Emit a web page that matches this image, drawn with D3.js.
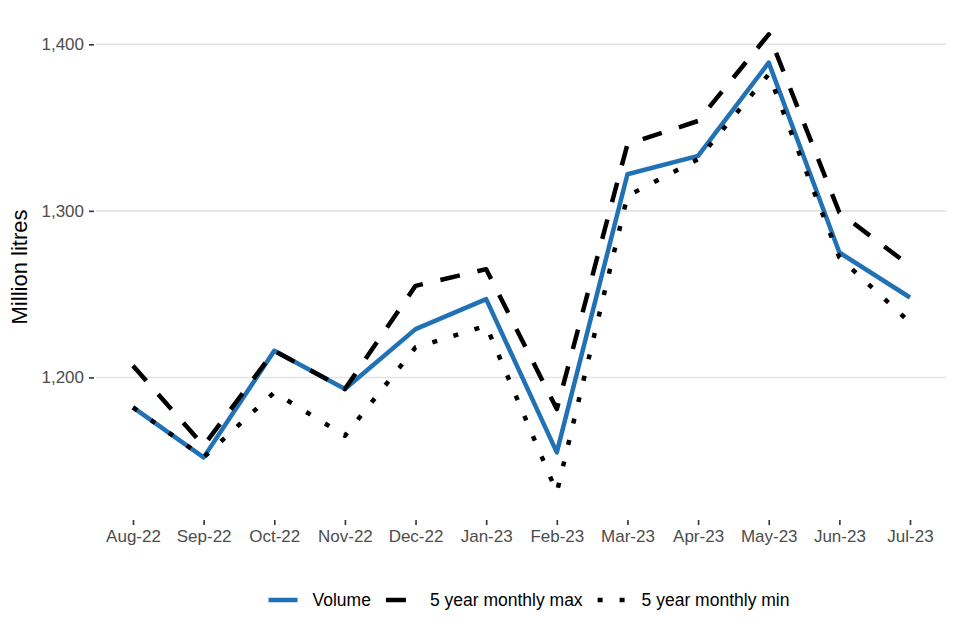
<!DOCTYPE html>
<html>
<head>
<meta charset="utf-8">
<script src="https://cdn.jsdelivr.net/npm/d3@7"></script>
<style>
  body { margin: 0; background: #fff; }
  svg { font-family: "Liberation Sans", Arial, sans-serif; }
</style>
</head>
<body>
<svg id="chart"></svg>
<script>
// données
const months = ["Aug-22", "Sep-22", "Oct-22", "Nov-22", "Dec-22", "Jan-23", "Feb-23", "Mar-23", "Apr-23", "May-23", "Jun-23", "Jul-23"];
const volume = [1182, 1152, 1216, 1193, 1229, 1247, 1155, 1322, 1333, 1389, 1275, 1248];
const maxValues = [1207, 1159, 1216, 1193, 1255, 1265, 1181, 1340, 1354, 1406, 1299, 1267];
const minValues = [1182, 1152, 1191, 1165, 1218, 1231, 1131, 1309, 1331, 1382, 1272, 1233];
const yTicks = [1200, 1300, 1400];
const seriesNames = ["Volume", "5 year monthly max", "5 year monthly min"];

const width = 960, height = 640;
const margin = { top: 11, right: 14, bottom: 121, left: 96 };

const svg = d3.select('#chart')
    .attr("width", width)
    .attr("height", height);

const x = d3.scalePoint()
    .domain(months)
    .range([133, 910]);

const y = d3.scaleLinear()
    .domain([1115, 1420])
    .range([height - margin.bottom, margin.top]);

// grille
svg.append('g')
    .selectAll('line')
    .data(yTicks)
    .join('line')
    .attr('x1', margin.left)
    .attr('x2', width - margin.right)
    .attr('y1', d => y(d))
    .attr('y2', d => y(d))
    .attr('stroke', '#e3e3e3')
    .attr('stroke-width', 1.6);

// axe y
const yAxis = svg.append('g')
    .attr("transform", "translate(" + (margin.left - 2) + ",0)")
    .call(d3.axisLeft(y).tickValues(yTicks).tickFormat(d3.format(",")).tickSize(5).tickPadding(5));
yAxis.select('.domain').remove();
yAxis.selectAll('.tick line').attr('stroke', '#333').attr('stroke-width', 1.6);
yAxis.selectAll('.tick text').attr('fill', '#4d4d4d').style('font-size', '17px');

// axe x
const xAxis = svg.append('g')
    .attr("transform", "translate(0," + (height - margin.bottom + 1) + ")")
    .call(d3.axisBottom(x).tickSize(5).tickPadding(5));
xAxis.select('.domain').remove();
xAxis.selectAll('.tick line').attr('stroke', '#333').attr('stroke-width', 1.6);
xAxis.selectAll('.tick text').attr('fill', '#4d4d4d').style('font-size', '17px');

// titre axe y
svg.append('text')
    .attr('transform', 'translate(27,' + ((margin.top + height - margin.bottom) / 2 + 2) + ') rotate(-90)')
    .attr('text-anchor', 'middle')
    .style('font-size', '22px')
    .attr('fill', '#000')
    .text('Million litres');

// séries
const styles = [
    { color: '#2171b5', dash: null },
    { color: '#000', dash: '20,18' },
    { color: '#000', dash: '5,17' }
];
const allSeries = [volume, maxValues, minValues];

const line = d3.line()
    .x((d, i) => x(months[i]))
    .y(d => y(d));

svg.append('g')
    .selectAll('path')
    .data(allSeries)
    .join('path')
    .attr('d', d => line(d))
    .attr('fill', 'none')
    .attr('stroke', (d, i) => styles[i].color)
    .attr('stroke-width', 4.5)
    .attr('stroke-dasharray', (d, i) => styles[i].dash)
    .attr('stroke-linejoin', 'round');

// légende
const legend = svg.append('g');
const keyW = 29, gap = 15, legendY = 600;
let xPos = 0;
seriesNames.forEach((name, i) => {
    const g = legend.append('g');
    g.append('line')
        .attr('x1', xPos).attr('x2', xPos + keyW)
        .attr('y1', legendY).attr('y2', legendY)
        .attr('stroke', styles[i].color)
        .attr('stroke-width', 4.5)
        .attr('stroke-dasharray', styles[i].dash);
    const t = g.append('text')
        .attr('x', xPos + keyW + gap)
        .attr('y', legendY + 6)
        .style('font-size', '17.5px')
        .attr('fill', '#000')
        .text(name);
    xPos += keyW + gap + t.node().getComputedTextLength() + gap;
});
const legendW = xPos - gap;
legend.attr('transform', 'translate(' + (529 - legendW / 2) + ',0)');
</script>
</body>
</html>
